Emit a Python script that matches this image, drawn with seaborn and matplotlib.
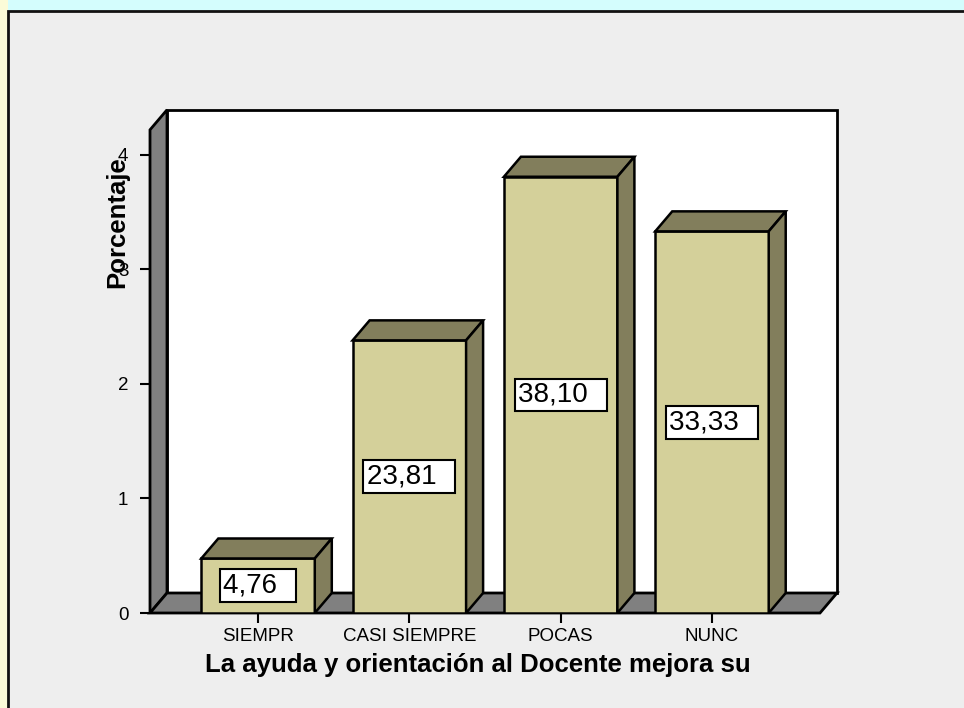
import matplotlib
matplotlib.use('Agg')
import matplotlib.pyplot as plt
from matplotlib.patches import Polygon, Rectangle
import seaborn as sns

sns.set_style('white')
plt.rcParams['font.family'] = ['Liberation Sans', 'DejaVu Sans']
plt.rcParams['text.color'] = 'black'
plt.rcParams['xtick.color'] = 'black'
plt.rcParams['ytick.color'] = 'black'
plt.rcParams['axes.labelcolor'] = 'black'

# datos (porcentaje) y categorías
categorias = ['SIEMPR', 'CASI SIEMPRE', 'POCAS', 'NUNC']
porcentajes = [4.76, 23.81, 38.10, 33.33]
etiquetas = ['4,76', '23,81', '38,10', '33,33']
alturas = [p / 10 for p in porcentajes]   # el eje de SPSS va de 0 a 4
yticks = [0, 1, 2, 3, 4]

frente = '#d4d09a'
oscuro = '#827e5c'
gris = '#808080'

fig = plt.figure(figsize=(9.64, 7.08), dpi=100)
fig.patch.set_facecolor('#d4fdfd')
fig.add_artist(Rectangle((0, 0), 8 / 964, 1, transform=fig.transFigure,
                         facecolor='#fbfbd8', edgecolor='none', zorder=0))
fig.add_artist(Rectangle((8 / 964, -0.05), 1.2, 1.05 - 11 / 708,
                         transform=fig.transFigure, facecolor='#eeeeee',
                         edgecolor='#111111', linewidth=2, zorder=0))

ax = fig.add_axes([150 / 964, 95 / 708, 670 / 964, 503 / 708])
ax.set_facecolor('none')

xl, xr = -0.714, 3.714
ytop = 4.22
dx, dy = 0.1124, 0.1747   # profundidad 3D

# paredes y piso
ax.add_patch(Polygon([(xl + dx, dy), (xr + dx, dy), (xr + dx, ytop + dy), (xl + dx, ytop + dy)],
                     facecolor='white', edgecolor='black', linewidth=2, zorder=0, clip_on=False))
ax.add_patch(Polygon([(xl, 0), (xl, ytop), (xl + dx, ytop + dy), (xl + dx, dy)],
                     facecolor=gris, edgecolor='black', linewidth=2, zorder=1, clip_on=False))
ax.add_patch(Polygon([(xl, 0), (xr, 0), (xr + dx, dy), (xl + dx, dy)],
                     facecolor=gris, edgecolor='black', linewidth=2, zorder=1, clip_on=False))

sns.barplot(x=categorias, y=alturas, color=frente, saturation=1, width=0.75,
            edgecolor='black', linewidth=1.8, ax=ax, zorder=3)

for bar, lab in zip(ax.patches[3:], etiquetas):
    x0 = bar.get_x()
    x1 = x0 + bar.get_width()
    h = bar.get_height()
    ax.add_patch(Polygon([(x0, h), (x1, h), (x1 + dx, h + dy), (x0 + dx, h + dy)],
                         facecolor=oscuro, edgecolor='black', linewidth=1.8, zorder=3))
    ax.add_patch(Polygon([(x1, 0), (x1 + dx, dy), (x1 + dx, h + dy), (x1, h)],
                         facecolor=oscuro, edgecolor='black', linewidth=1.8, zorder=3))
    ax.text(x0 + bar.get_width() / 2, h / 2, lab + '  ', ha='center', va='center',
            fontsize=20, zorder=5,
            bbox=dict(boxstyle='square,pad=0.12', facecolor='white',
                      edgecolor='black', linewidth=1.5))

ax.set_xlim(xl, xr)
ax.set_ylim(0, 4.393)
for s in ax.spines.values():
    s.set_visible(False)

ax.set_yticks(yticks)
ax.set_yticklabels([str(t) for t in yticks])
ax.tick_params(axis='y', length=7.5, width=1.5, pad=8, labelsize=13.5, left=True)
ax.tick_params(axis='x', length=7, width=1.5, pad=4, labelsize=13.5, bottom=True)

ax.set_xlabel('La ayuda y orientación al Docente mejora su', fontsize=18.5,
              fontweight='bold', va='center')
ax.xaxis.set_label_coords(0.49, -0.103)
ax.set_ylabel('Porcentaje', fontsize=18.5, fontweight='bold', va='center')
ax.yaxis.set_label_coords(-0.049, 0.777)

fig.savefig('out.png', dpi=100, facecolor=fig.get_facecolor())
